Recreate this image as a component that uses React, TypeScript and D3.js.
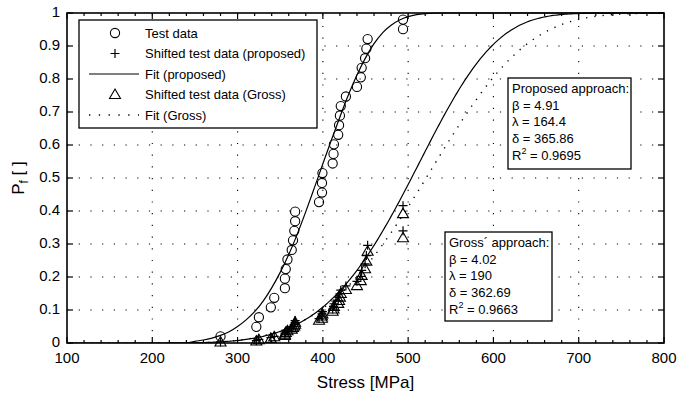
import React from "react";
import * as d3 from "d3";

// ---------- data ----------
const testStress = [280, 322, 325, 339, 343, 355.5, 355.5, 356.5, 358.5, 363.5, 365, 366.5, 367.5, 367.5, 395.5, 399, 399, 399.5, 411.5, 412.5, 413, 418, 419, 420, 421, 427, 440, 444.5, 445.5, 449.5, 451, 452.5, 494, 494];
const testP = [0.020, 0.049, 0.078, 0.108, 0.137, 0.166, 0.195, 0.224, 0.253, 0.282, 0.311, 0.340, 0.369, 0.398, 0.427, 0.456, 0.485, 0.515, 0.544, 0.573, 0.602, 0.631, 0.660, 0.689, 0.718, 0.747, 0.776, 0.805, 0.834, 0.863, 0.892, 0.921, 0.951, 0.980];
const shiftedProposedP = [0.003, 0.007, 0.011, 0.016, 0.020, 0.025, 0.030, 0.034, 0.039, 0.045, 0.050, 0.056, 0.062, 0.068, 0.074, 0.081, 0.088, 0.095, 0.103, 0.111, 0.119, 0.128, 0.138, 0.149, 0.160, 0.173, 0.187, 0.202, 0.220, 0.240, 0.265, 0.296, 0.340, 0.416];
const shiftedGrossP = [0.003, 0.006, 0.010, 0.014, 0.019, 0.023, 0.027, 0.032, 0.037, 0.042, 0.047, 0.052, 0.057, 0.063, 0.069, 0.075, 0.082, 0.088, 0.096, 0.103, 0.111, 0.120, 0.129, 0.139, 0.150, 0.162, 0.174, 0.189, 0.205, 0.225, 0.248, 0.278, 0.319, 0.392];

// fit of the original test data
const testFitStress = [240, 250, 260, 270, 280, 290, 300, 310, 320, 330, 340, 350, 360, 370, 380, 390, 400, 410, 420, 430, 440, 450, 460, 470, 480, 490, 500, 510, 520, 540, 800];
const testFitP = [0, 0.005, 0.009, 0.015, 0.023, 0.034, 0.05, 0.07, 0.095, 0.127, 0.167, 0.214, 0.268, 0.33, 0.398, 0.47, 0.543, 0.615, 0.685, 0.752, 0.812, 0.864, 0.907, 0.94, 0.963, 0.979, 0.989, 0.995, 0.998, 1.0, 1.0];

// Weibull parameters from the annotations
const proposedParams = { beta: 4.91, lambda: 164.4, delta: 365.86, r2: "0.9695" };
const grossParams = { beta: 4.02, lambda: 190, delta: 362.69, r2: "0.9663" };

const xTicks = [100, 200, 300, 400, 500, 600, 700, 800];
const yTicks = [0, 0.1, 0.2, 0.3, 0.4, 0.5, 0.6, 0.7, 0.8, 0.9, 1];
const yTickLabels = ["0", "0.1", "0.2", "0.3", "0.4", "0.5", "0.6", "0.7", "0.8", "0.9", "1"];
const legendLabels = ["Test data", "Shifted test data (proposed)", "Fit (proposed)", "Shifted test data (Gross)", "Fit (Gross)"];

// ---------- layout ----------
const W = 677, H = 397;
const L = 67, R = 664, T = 13, B = 343;
const FONT = "'Liberation Sans', Arial, Helvetica, sans-serif";

const x = d3.scaleLinear().domain([100, 800]).range([L, R]);
const y = d3.scaleLinear().domain([0, 1]).range([B, T]);

function weibull(s: number, p: { beta: number; lambda: number; delta: number }) {
  if (s <= p.lambda) return 0;
  return 1 - Math.exp(-Math.pow((s - p.lambda) / p.delta, p.beta));
}

const sampleX = d3.range(100, 800.1, 2);
const line = d3.line<[number, number]>().x(d => x(d[0])).y(d => y(d[1]));
const smooth = d3.line<[number, number]>().x(d => x(d[0])).y(d => y(d[1])).curve(d3.curveMonotoneX);

const proposedPath = line(sampleX.map(s => [s, weibull(s, proposedParams)] as [number, number]))!;
const grossPath = line(sampleX.map(s => [s, weibull(s, grossParams)] as [number, number]))!;
const testFitPath = smooth(testFitStress.map((s, i) => [s, testFitP[i]] as [number, number]))!;

const Circle = ({ cx, cy }: { cx: number; cy: number }) => (
  <circle cx={cx} cy={cy} r={4.6} fill="none" stroke="#000" strokeWidth={1.1} />
);
const Plus = ({ cx, cy }: { cx: number; cy: number }) => (
  <path d={`M${cx - 4.5},${cy}H${cx + 4.5}M${cx},${cy - 4.5}V${cy + 4.5}`} stroke="#000" strokeWidth={1.2} fill="none" />
);
const Tri = ({ cx, cy }: { cx: number; cy: number }) => (
  <path d={`M${cx},${cy - 5.5}L${cx + 5.5},${cy + 4}L${cx - 5.5},${cy + 4}Z`} stroke="#000" strokeWidth={1.1} fill="none" />
);

function AnnotBox({ x0, y0, w, h, title, p }: { x0: number; y0: number; w: number; h: number; title: string; p: { beta: number; lambda: number; delta: number; r2: string } }) {
  const lh = 16.6;
  const b0 = y0 + 15;
  return (
    <g>
      <rect x={x0} y={y0} width={w} height={h} fill="#fff" stroke="#000" strokeWidth={1.3} />
      <g fontSize={13} fontFamily={FONT} fill="#000">
        <text x={x0 + 4} y={b0}>{title}</text>
        <text x={x0 + 4} y={b0 + lh}>β = {p.beta}</text>
        <text x={x0 + 4} y={b0 + 2 * lh}>λ = {p.lambda}</text>
        <text x={x0 + 4} y={b0 + 3 * lh}>δ = {p.delta}</text>
        <text x={x0 + 4} y={b0 + 4 * lh + 1}>R<tspan fontSize={9} dy={-6}>2</tspan><tspan dy={6}> = {p.r2}</tspan></text>
      </g>
    </g>
  );
}

export default function App() {
  const minorX = d3.range(120, 800, 20).filter(v => v % 100 !== 0);
  const legX = 79, legY = 20, legW = 238, legH = 108;
  const rowY = (i: number) => 33 + i * 20.5;
  return (
    <svg width={W} height={H} style={{ position: "absolute", left: 0, top: 0, background: "#fff" }} fontFamily={FONT}>
      <rect x={0} y={0} width={W} height={H} fill="#fff" />
      {/* grid */}
      <g stroke="#000" strokeWidth={1.1} strokeDasharray="1.2,10.5">
        {xTicks.slice(1, -1).map(v => <line key={"gx" + v} x1={x(v)} x2={x(v)} y1={B} y2={T} />)}
        {yTicks.slice(1, -1).map(v => <line key={"gy" + v} x1={L} x2={R} y1={y(v)} y2={y(v)} />)}
      </g>
      <defs>
        <clipPath id="plotclip"><rect x={L} y={T - 1} width={R - L} height={B - T + 1} /></clipPath>
      </defs>
      <g clipPath="url(#plotclip)">
        <path d={grossPath} fill="none" stroke="#000" strokeWidth={1.4} strokeDasharray="1.3,7" />
        <path d={proposedPath} fill="none" stroke="#000" strokeWidth={1.2} />
        <path d={testFitPath} fill="none" stroke="#000" strokeWidth={1.2} />
      </g>
      {/* markers */}
      {testStress.map((s, i) => <Tri key={"t" + i} cx={x(s)} cy={y(shiftedGrossP[i])} />)}
      {testStress.map((s, i) => <Plus key={"p" + i} cx={x(s)} cy={y(shiftedProposedP[i])} />)}
      {testStress.map((s, i) => <Circle key={"c" + i} cx={x(s)} cy={y(testP[i])} />)}

      {/* legend */}
      <rect x={legX} y={legY} width={legW} height={legH} fill="#fff" stroke="#000" strokeWidth={1.3} />
      <Circle cx={115} cy={rowY(0)} />
      <Plus cx={115} cy={rowY(1)} />
      <line x1={89} x2={139} y1={rowY(2)} y2={rowY(2)} stroke="#000" strokeWidth={1.2} />
      <Tri cx={115} cy={rowY(3)} />
      <line x1={89} x2={139} y1={rowY(4)} y2={rowY(4)} stroke="#000" strokeWidth={1.4} strokeDasharray="1.3,8.5" />
      <g fontSize={13} fill="#000">
        {legendLabels.map((t, i) => <text key={t} x={145} y={rowY(i) + 4.5}>{t}</text>)}
      </g>

      <AnnotBox x0={508} y0={78} w={123} h={91} title="Proposed approach:" p={proposedParams} />
      <AnnotBox x0={445} y0={232} w={107} h={89} title="Gross´ approach:" p={grossParams} />

      {/* axes frame */}
      <rect x={L} y={T} width={R - L} height={B - T} fill="none" stroke="#000" strokeWidth={1.6} />
      <g stroke="#000" strokeWidth={1.2}>
        {xTicks.map(v => <g key={"tx" + v}>
          <line x1={x(v)} x2={x(v)} y1={B} y2={B - 6} />
          <line x1={x(v)} x2={x(v)} y1={T} y2={T + 6} />
        </g>)}
        {minorX.map(v => <g key={"mx" + v}>
          <line x1={x(v)} x2={x(v)} y1={B} y2={B - 3} />
          <line x1={x(v)} x2={x(v)} y1={T} y2={T + 3} />
        </g>)}
        {yTicks.map(v => <g key={"ty" + v}>
          <line x1={L} x2={L + 6} y1={y(v)} y2={y(v)} />
          <line x1={R} x2={R - 6} y1={y(v)} y2={y(v)} />
        </g>)}
      </g>
      <g fontSize={15} fill="#000">
        {xTicks.map(v => <text key={"lx" + v} x={x(v)} y={B + 20} textAnchor="middle">{v}</text>)}
        {yTicks.map((v, i) => <text key={"ly" + v} x={L - 7} y={y(v) + 4} textAnchor="end">{yTickLabels[i]}</text>)}
      </g>
      <text x={(L + R) / 2} y={B + 45} textAnchor="middle" fontSize={17}>Stress [MPa]</text>
      <text transform={`translate(24,${(T + B) / 2}) rotate(-90)`} textAnchor="middle" fontSize={17}>
        P<tspan fontSize={12} dy={4}>f</tspan><tspan dy={-4}> [ ]</tspan>
      </text>
    </svg>
  );
}
